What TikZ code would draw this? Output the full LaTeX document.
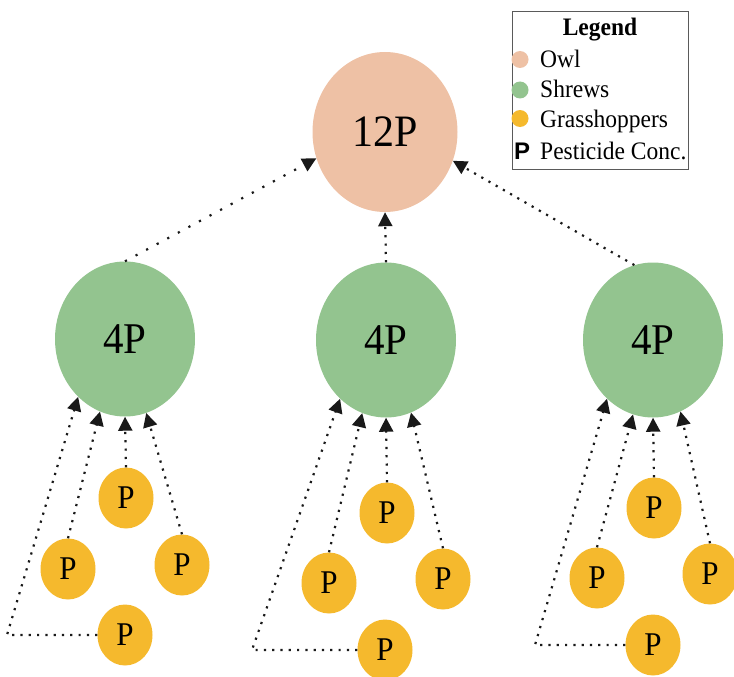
\documentclass[tikz,border=0pt]{standalone}
\usepackage{fontspec}
\usepackage{graphicx}
\setmainfont{Liberation Serif}
\setsansfont{Liberation Sans}
\usetikzlibrary{shapes.geometric,arrows.meta}
\definecolor{owlc}{RGB}{238,193,165}
\definecolor{shrewc}{RGB}{147,196,143}
\definecolor{hopc}{RGB}{245,185,45}
\definecolor{boxc}{RGB}{90,90,90}
\definecolor{dotc}{RGB}{25,25,25}
\newcommand{\vstr}[1]{\scalebox{1}[1.07]{#1}}
\tikzset{
  owlnode/.style={ellipse,fill=owlc,inner sep=0pt,minimum width=145pt,minimum height=160pt,font=\fontsize{42}{42}\selectfont},
  shrewnode/.style={ellipse,fill=shrewc,inner sep=0pt,minimum width=140pt,minimum height=155pt,font=\fontsize{41}{41}\selectfont},
  hopnode/.style={ellipse,fill=hopc,inner sep=0pt,minimum width=55pt,minimum height=61pt,font=\fontsize{31}{31}\selectfont},
  dotarr/.style={draw=dotc,line width=2.2pt,line cap=butt,dash pattern=on 2.2pt off 6.1pt,
    -{Triangle[length=14pt,width=14pt,fill=dotc]}},
  dotarrwide/.style={dotarr,dash pattern=on 2.2pt off 9.8pt},
  legdot/.style={circle,inner sep=0pt,minimum size=17pt},
  legtxt/.style={anchor=base west,inner sep=0pt,font=\fontsize{23.5}{23.5}\selectfont}
}
\begin{document}
\begin{tikzpicture}[x=1pt,y=-1pt]
\useasboundingbox (0,0) rectangle (734,677);
\clip (0,0) rectangle (734,677);
% owl
\node[owlnode] (owl) at (385,132) {\vstr{12P}};
% shrews
\node[shrewnode] (sL) at (125,339) {\vstr{4P}};
\node[shrewnode] (sM) at (386,340) {\vstr{4P}};
\node[shrewnode] (sR) at (653,340) {\vstr{4P}};
% grasshoppers left
\node[hopnode] (lT) at (126,498) {\vstr{P}};
\node[hopnode] (lL) at (68,569) {\vstr{P}};
\node[hopnode] (lR) at (182,565) {\vstr{P}};
\node[hopnode] (lB) at (125,635) {\vstr{P}};
% grasshoppers middle
\node[hopnode] (mT) at (387,513) {\vstr{P}};
\node[hopnode] (mL) at (329,583) {\vstr{P}};
\node[hopnode] (mR) at (443,579) {\vstr{P}};
\node[hopnode] (mB) at (385,650) {\vstr{P}};
% grasshoppers right
\node[hopnode] (rT) at (654,508) {\vstr{P}};
\node[hopnode] (rL) at (597,578) {\vstr{P}};
\node[hopnode] (rR) at (710,574) {\vstr{P}};
\node[hopnode] (rB) at (653,645) {\vstr{P}};
% corners
\coordinate (cL) at (7,635);
\coordinate (cM) at (252,650);
\coordinate (cR) at (535,645);
% shrews to owl
\draw[dotarrwide] (sL.north) -- (owl.201.5);
\draw[dotarr] (sM.north) -- (owl.south);
\draw[dotarr] (sR.104.7) -- (owl.337);
% left cluster
\draw[dotarr] (lT.north) -- (sL.270);
\draw[dotarr] (lL.north) -- (sL.251.8);
\draw[dotarr] (lR.north) -- (sL.286.8);
\draw[dotarr] (lB.west) -- (cL) -- (sL.231.2);
% middle cluster
\draw[dotarr] (mT.north) -- (sM.270);
\draw[dotarr] (mL.north) -- (sM.252);
\draw[dotarr] (mR.north) -- (sM.289.3);
\draw[dotarr] (mB.west) -- (cM) -- (sM.232.7);
% right cluster
\draw[dotarr] (rT.north) -- (sR.270);
\draw[dotarr] (rL.north) -- (sR.255);
\draw[dotarr] (rR.north) -- (sR.291.8);
\draw[dotarr] (rB.west) -- (cR) -- (sR.232.9);
% legend
\node[draw=boxc,line width=1pt,fill=white,inner sep=0pt,minimum width=176pt,minimum height=157pt] (leg) at (600,90.5) {};
\node[anchor=base,inner sep=0pt,font=\fontsize{23.5}{23.5}\selectfont\bfseries] (legT) at (600,36) {\vstr{Legend}};
\node[legdot,fill=owlc] (d1) at (520,59.5) {};
\node[legdot,fill=shrewc] (d2) at (520,90) {};
\node[legdot,fill=hopc] (d3) at (520,118.5) {};
\node[anchor=base,inner sep=0pt,font=\fontsize{24}{24}\selectfont\sffamily\bfseries] (d4) at (522,159) {P};
\node[legtxt] (t1) at (540,67.5) {\vstr{Owl}};
\node[legtxt] (t2) at (540,98) {\vstr{Shrews}};
\node[legtxt] (t3) at (540,128) {\vstr{Grasshoppers}};
\node[legtxt] (t4) at (540,159) {\vstr{Pesticide Conc.}};
\end{tikzpicture}
\end{document}
